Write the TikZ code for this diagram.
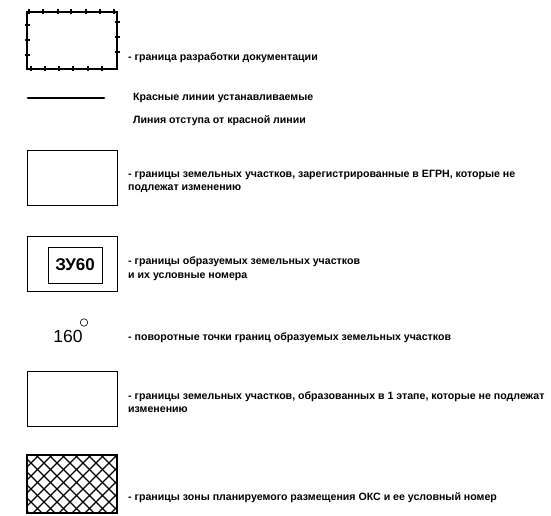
\documentclass[tikz,border=0pt]{standalone}
\usepackage{fontspec}
\setmainfont{Liberation Sans}
\usetikzlibrary{positioning,calc}

\begin{document}
\begin{tikzpicture}[x=1pt,y=-1pt,
    frame/.style={draw,line width=0.9pt,minimum width=90pt,minimum height=55pt,inner sep=0pt},
    txt/.style={anchor=west,inner sep=0pt,align=left,font=\fontsize{10.6}{13.5}\selectfont\bfseries},
    tick/.style={line width=1.2pt},
    hatch/.style={line width=1.1pt}]
  \useasboundingbox (0,0) rectangle (551,516);
  % boundary of documentation
  \node[frame,line width=1.6pt,minimum height=57pt] (border) at (72,40.5) {};
  \foreach \x in {29,43,58,71,86,100,114} \draw[tick] (\x,9.5) -- (\x,14.5);
  \foreach \x in {31,45,59,73,88,102} \draw[tick] (\x,66.5) -- (\x,71.5);
  \foreach \y in {25,40,55} \draw[tick] (24.5,\y) -- (29.5,\y);
  \foreach \y in {22,37,52} \draw[tick] (114.5,\y) -- (119.5,\y);
  \node[txt] (borderlbl) at (128,58) {- граница разработки документации};
  % red lines
  \coordinate (redA) at (28,98);
  \coordinate (redB) at (104,98);
  \draw[line width=2.8pt,line cap=round] (redA) -- (redB);
  \node[txt] (redlbl) at (133,98) {Красные линии устанавливаемые};
  \node[txt] (offsetlbl) at (133,121) {Линия отступа от красной линии};
  % registered parcels
  \node[frame] (egrn) at (72,178) {};
  \node[txt] (egrnlbl) at (128,181.5) {- границы земельных участков, зарегистрированные в ЕГРН, которые не\\подлежат изменению};
  % new parcels
  \node[frame] (newpar) at (72,263.5) {};
  \node[draw,line width=0.9pt,minimum width=54pt,minimum height=36pt,inner sep=0pt,
        font=\fontsize{17}{17}\selectfont\bfseries] (zu) at (75,265) {ЗУ60};
  \node[txt] (newparlbl) at (128,268.5) {- границы образуемых земельных участков\\и их условные номера};
  % turning points
  \node[inner sep=0pt,font=\fontsize{17.5}{17.5}\selectfont] (pt) at (68,336) {160};
  \node[circle,draw,line width=0.6pt,minimum size=7.5pt,inner sep=0pt] (ptmark) at (84,322.5) {};
  \node[txt] (ptlbl) at (128,338) {- поворотные точки границ образуемых земельных участков};
  % parcels of stage 1
  \node[frame] (stage) at (72,399) {};
  \node[txt] (stagelbl) at (128,402) {- границы земельных участков, образованных в 1 этапе, которые не подлежат\\изменению};
  % planned OKS zone
  \node[frame,line width=1.3pt,minimum height=58pt] (oks) at (72,484) {};
  \begin{scope}
    \clip (oks.north west) rectangle (oks.south east);
    \foreach \i in {-60,-47,...,200} {
      \draw[hatch] (\i,450) -- ++(70,70);
      \draw[hatch] (\i,450) -- ++(-70,70);
    }
  \end{scope}
  \node[frame,line width=1.3pt,minimum height=58pt] at (oks) {};
  \node[txt] (okslbl) at (128,498) {- границы зоны планируемого размещения ОКС и ее условный номер};
\end{tikzpicture}
\end{document}
